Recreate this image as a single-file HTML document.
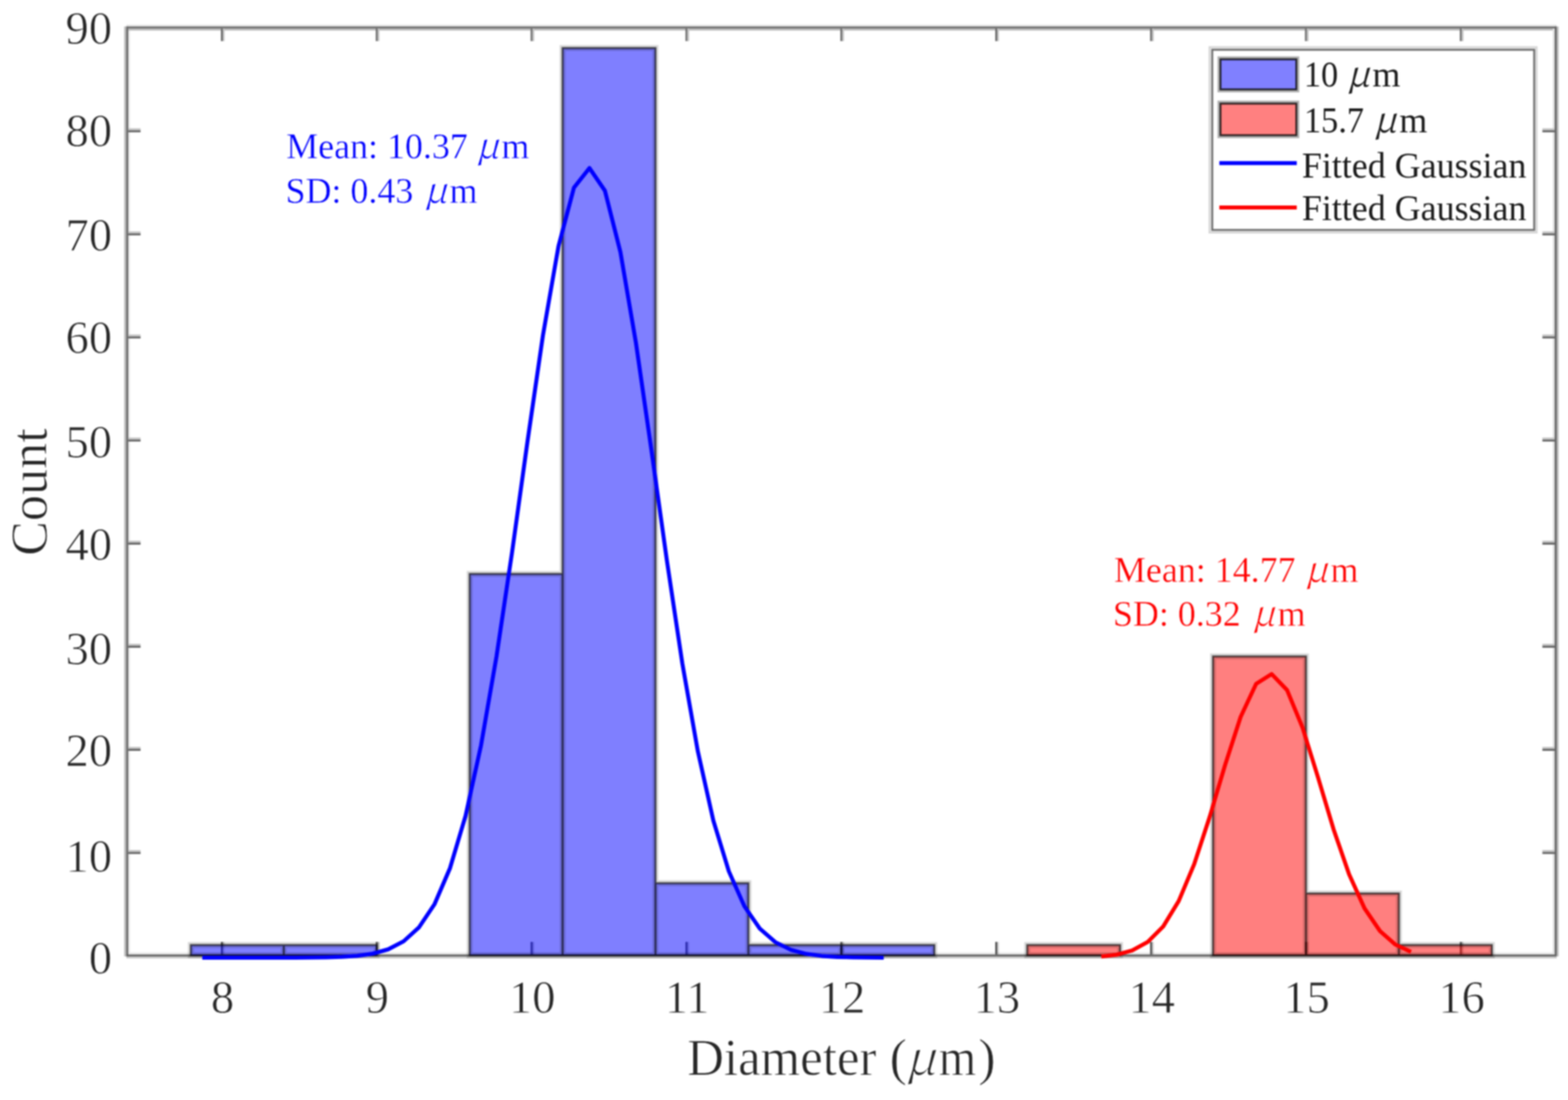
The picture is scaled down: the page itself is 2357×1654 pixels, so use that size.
<!DOCTYPE html>
<html><head><meta charset="utf-8"><title>Diameter histogram</title>
<style>
html,body{margin:0;padding:0;background:#fff;overflow:hidden;}
svg{display:block;filter:blur(1px);}
text{font-family:"Liberation Serif","Times New Roman",serif;}
</style></head><body>
<svg width="2357" height="1654" viewBox="0 0 2357 1654">
<rect x="0" y="0" width="2357" height="1654" fill="#fff"/>
<g><rect x="186.7" y="39.8" width="3.2" height="1398.3" fill="#b8b8b8"/><rect x="192.8" y="42.8" width="3.0" height="1392.5" fill="#eeeeee"/><rect x="189.9" y="37.0" width="2150.1" height="2.8" fill="#e6e6e6"/><rect x="192.8" y="42.8" width="2144.2" height="3.1" fill="#bcbcbc"/><rect x="192.8" y="1432.3" width="2144.2" height="3.0" fill="#e6e6e6"/><rect x="189.9" y="1438.1" width="2150.1" height="3.0" fill="#c8c8c8"/><rect x="2334.0" y="42.8" width="3.0" height="1392.5" fill="#e2e2e2"/><rect x="2340.0" y="39.8" width="3.0" height="1398.3" fill="#bcbcbc"/><rect x="189.9" y="39.8" width="2.9" height="1398.3" fill="#676767"/><rect x="189.9" y="39.8" width="2150.1" height="3.0" fill="#6b6b6b"/><rect x="189.9" y="1435.3" width="2150.1" height="2.8" fill="#5e5e5e"/><rect x="2337.0" y="39.8" width="3.0" height="1398.3" fill="#676767"/></g>
<g><rect x="332.0" y="42.8" width="3" height="19" fill="#6e6e6e"/><rect x="335.0" y="42.8" width="2.5" height="19" fill="#c4c4c4"/><rect x="332.0" y="1416.3" width="3" height="19" fill="#555"/><rect x="335.0" y="1416.3" width="2.5" height="19" fill="#000" fill-opacity="0.2"/><rect x="564.8" y="42.8" width="3" height="19" fill="#6e6e6e"/><rect x="567.8" y="42.8" width="2.5" height="19" fill="#c4c4c4"/><rect x="564.8" y="1416.3" width="3" height="19" fill="#555"/><rect x="567.8" y="1416.3" width="2.5" height="19" fill="#000" fill-opacity="0.2"/><rect x="797.6" y="42.8" width="3" height="19" fill="#6e6e6e"/><rect x="800.6" y="42.8" width="2.5" height="19" fill="#c4c4c4"/><rect x="797.6" y="1416.3" width="3" height="19" fill="#555"/><rect x="800.6" y="1416.3" width="2.5" height="19" fill="#000" fill-opacity="0.2"/><rect x="1030.4" y="42.8" width="3" height="19" fill="#6e6e6e"/><rect x="1033.4" y="42.8" width="2.5" height="19" fill="#c4c4c4"/><rect x="1030.4" y="1416.3" width="3" height="19" fill="#555"/><rect x="1033.4" y="1416.3" width="2.5" height="19" fill="#000" fill-opacity="0.2"/><rect x="1263.2" y="42.8" width="3" height="19" fill="#6e6e6e"/><rect x="1266.2" y="42.8" width="2.5" height="19" fill="#c4c4c4"/><rect x="1263.2" y="1416.3" width="3" height="19" fill="#555"/><rect x="1266.2" y="1416.3" width="2.5" height="19" fill="#000" fill-opacity="0.2"/><rect x="1496.0" y="42.8" width="3" height="19" fill="#6e6e6e"/><rect x="1499.0" y="42.8" width="2.5" height="19" fill="#c4c4c4"/><rect x="1496.0" y="1416.3" width="3" height="19" fill="#555"/><rect x="1499.0" y="1416.3" width="2.5" height="19" fill="#000" fill-opacity="0.2"/><rect x="1728.8" y="42.8" width="3" height="19" fill="#6e6e6e"/><rect x="1731.8" y="42.8" width="2.5" height="19" fill="#c4c4c4"/><rect x="1728.8" y="1416.3" width="3" height="19" fill="#555"/><rect x="1731.8" y="1416.3" width="2.5" height="19" fill="#000" fill-opacity="0.2"/><rect x="1961.6" y="42.8" width="3" height="19" fill="#6e6e6e"/><rect x="1964.6" y="42.8" width="2.5" height="19" fill="#c4c4c4"/><rect x="1961.6" y="1416.3" width="3" height="19" fill="#555"/><rect x="1964.6" y="1416.3" width="2.5" height="19" fill="#000" fill-opacity="0.2"/><rect x="2194.4" y="42.8" width="3" height="19" fill="#6e6e6e"/><rect x="2197.4" y="42.8" width="2.5" height="19" fill="#c4c4c4"/><rect x="2194.4" y="1416.3" width="3" height="19" fill="#555"/><rect x="2197.4" y="1416.3" width="2.5" height="19" fill="#000" fill-opacity="0.2"/><rect x="192.8" y="1281.1" width="18.5" height="3" fill="#666"/><rect x="192.8" y="1278.1" width="18.5" height="3" fill="#c4c4c4"/><rect x="2318.5" y="1281.1" width="18.5" height="3" fill="#666"/><rect x="2318.5" y="1278.1" width="18.5" height="3" fill="#c4c4c4"/><rect x="192.8" y="1126.0" width="18.5" height="3" fill="#666"/><rect x="192.8" y="1123.0" width="18.5" height="3" fill="#c4c4c4"/><rect x="2318.5" y="1126.0" width="18.5" height="3" fill="#666"/><rect x="2318.5" y="1123.0" width="18.5" height="3" fill="#c4c4c4"/><rect x="192.8" y="971.0" width="18.5" height="3" fill="#666"/><rect x="192.8" y="968.0" width="18.5" height="3" fill="#c4c4c4"/><rect x="2318.5" y="971.0" width="18.5" height="3" fill="#666"/><rect x="2318.5" y="968.0" width="18.5" height="3" fill="#c4c4c4"/><rect x="192.8" y="816.0" width="18.5" height="3" fill="#666"/><rect x="192.8" y="813.0" width="18.5" height="3" fill="#c4c4c4"/><rect x="2318.5" y="816.0" width="18.5" height="3" fill="#666"/><rect x="2318.5" y="813.0" width="18.5" height="3" fill="#c4c4c4"/><rect x="192.8" y="660.9" width="18.5" height="3" fill="#666"/><rect x="192.8" y="657.9" width="18.5" height="3" fill="#c4c4c4"/><rect x="2318.5" y="660.9" width="18.5" height="3" fill="#666"/><rect x="2318.5" y="657.9" width="18.5" height="3" fill="#c4c4c4"/><rect x="192.8" y="505.9" width="18.5" height="3" fill="#666"/><rect x="192.8" y="502.9" width="18.5" height="3" fill="#c4c4c4"/><rect x="2318.5" y="505.9" width="18.5" height="3" fill="#666"/><rect x="2318.5" y="502.9" width="18.5" height="3" fill="#c4c4c4"/><rect x="192.8" y="350.9" width="18.5" height="3" fill="#666"/><rect x="192.8" y="347.9" width="18.5" height="3" fill="#c4c4c4"/><rect x="2318.5" y="350.9" width="18.5" height="3" fill="#666"/><rect x="2318.5" y="347.9" width="18.5" height="3" fill="#c4c4c4"/><rect x="192.8" y="195.9" width="18.5" height="3" fill="#666"/><rect x="192.8" y="192.9" width="18.5" height="3" fill="#c4c4c4"/><rect x="2318.5" y="195.9" width="18.5" height="3" fill="#666"/><rect x="2318.5" y="192.9" width="18.5" height="3" fill="#c4c4c4"/></g>
<g><rect x="286.9" y="1421.1" width="139.7" height="15.5" fill="#0000ff" fill-opacity="0.5"/><rect x="426.6" y="1421.1" width="139.7" height="15.5" fill="#0000ff" fill-opacity="0.5"/><rect x="706.0" y="863.0" width="139.7" height="573.6" fill="#0000ff" fill-opacity="0.5"/><rect x="845.7" y="72.3" width="139.7" height="1364.3" fill="#0000ff" fill-opacity="0.5"/><rect x="985.3" y="1328.1" width="139.7" height="108.5" fill="#0000ff" fill-opacity="0.5"/><rect x="1125.0" y="1421.1" width="139.7" height="15.5" fill="#0000ff" fill-opacity="0.5"/><rect x="1264.7" y="1421.1" width="139.7" height="15.5" fill="#0000ff" fill-opacity="0.5"/><rect x="1544.1" y="1421.1" width="139.7" height="15.5" fill="#ff0000" fill-opacity="0.5"/><rect x="1823.4" y="987.0" width="139.7" height="449.6" fill="#ff0000" fill-opacity="0.5"/><rect x="1963.1" y="1343.6" width="139.7" height="93.0" fill="#ff0000" fill-opacity="0.5"/><rect x="2102.8" y="1421.1" width="139.7" height="15.5" fill="#ff0000" fill-opacity="0.5"/><path d="M286.9,1436.6V1421.1H426.6V1436.6ZM426.6,1436.6V1421.1H566.3V1436.6ZM706.0,1436.6V863.0H845.7V1436.6ZM845.7,1436.6V72.3H985.3V1436.6ZM985.3,1436.6V1328.1H1125.0V1436.6ZM1125.0,1436.6V1421.1H1264.7V1436.6ZM1264.7,1436.6V1421.1H1404.4V1436.6ZM1544.1,1436.6V1421.1H1683.7V1436.6ZM1823.4,1436.6V987.0H1963.1V1436.6ZM1963.1,1436.6V1343.6H2102.8V1436.6ZM2102.8,1436.6V1421.1H2242.5V1436.6Z" fill="none" stroke="#000" stroke-opacity="0.15" stroke-width="9"/><path d="M286.9,1436.6V1421.1H426.6V1436.6ZM426.6,1436.6V1421.1H566.3V1436.6ZM706.0,1436.6V863.0H845.7V1436.6ZM845.7,1436.6V72.3H985.3V1436.6ZM985.3,1436.6V1328.1H1125.0V1436.6ZM1125.0,1436.6V1421.1H1264.7V1436.6ZM1264.7,1436.6V1421.1H1404.4V1436.6ZM1544.1,1436.6V1421.1H1683.7V1436.6ZM1823.4,1436.6V987.0H1963.1V1436.6ZM1963.1,1436.6V1343.6H2102.8V1436.6ZM2102.8,1436.6V1421.1H2242.5V1436.6Z" fill="none" stroke="#000" stroke-opacity="0.62" stroke-width="3"/></g>
<polyline points="304.1,1440.0 327.3,1440.0 350.6,1440.0 373.9,1440.0 397.2,1440.0 420.5,1440.0 443.7,1439.9 467.0,1439.8 490.3,1439.5 513.6,1438.8 536.9,1437.2 560.1,1434.0 583.4,1427.5 606.7,1415.4 630.0,1394.2 653.3,1359.3 676.5,1305.2 699.8,1226.8 723.1,1120.6 746.4,986.7 769.7,830.6 792.9,664.0 816.2,503.9 839.5,370.3 862.8,282.1 886.1,252.7 909.3,286.8 932.6,379.0 955.9,515.3 979.2,676.7 1002.5,843.1 1025.7,997.8 1049.0,1129.7 1072.3,1233.8 1095.6,1310.1 1118.9,1362.6 1142.1,1396.2 1165.4,1416.6 1188.7,1428.1 1212.0,1434.3 1235.3,1437.4 1258.5,1438.9 1281.8,1439.5 1305.1,1439.8 1328.4,1439.9" fill="none" stroke="#0000ff" stroke-width="6" stroke-linejoin="round"/><polyline points="1655.4,1438.3 1678.7,1435.5 1701.9,1429.2 1725.2,1416.4 1748.5,1393.1 1771.8,1354.9 1795.1,1299.4 1818.3,1228.5 1841.6,1150.1 1864.9,1078.0 1888.2,1028.3 1911.5,1013.5 1934.7,1037.6 1958.0,1094.1 1981.3,1169.2 2004.6,1246.9 2027.9,1314.6 2051.1,1365.8 2074.4,1400.0 2097.7,1420.4 2121.0,1431.2" fill="none" stroke="#ff0000" stroke-width="6" stroke-linejoin="round"/>
<g font-size="70" fill="#262626" stroke="#fff" stroke-width="0.9">
<text x="168.5" y="1463.6" text-anchor="end">0</text>
<text x="168.5" y="1310.6" text-anchor="end">10</text>
<text x="168.5" y="1152.3" text-anchor="end">20</text>
<text x="168.5" y="998.6" text-anchor="end">30</text>
<text x="168.5" y="842.4" text-anchor="end">40</text>
<text x="168.5" y="688.2" text-anchor="end">50</text>
<text x="168.5" y="530.9" text-anchor="end">60</text>
<text x="168.5" y="377.4" text-anchor="end">70</text>
<text x="168.5" y="219.8" text-anchor="end">80</text>
<text x="168.5" y="65.5" text-anchor="end">90</text>
<text x="334.5" y="1523" text-anchor="middle">8</text>
<text x="567.3" y="1523" text-anchor="middle">9</text>
<text x="800.1" y="1523" text-anchor="middle">10</text>
<text x="1032.9" y="1523" text-anchor="middle">11</text>
<text x="1265.7" y="1523" text-anchor="middle">12</text>
<text x="1498.5" y="1523" text-anchor="middle">13</text>
<text x="1731.3" y="1523" text-anchor="middle">14</text>
<text x="1964.1" y="1523" text-anchor="middle">15</text>
<text x="2196.9" y="1523" text-anchor="middle">16</text>
</g>
<text y="1615.5" font-size="78.5" fill="#262626" stroke="#fff" stroke-width="0.9"><tspan x="1033" textLength="284.4" lengthAdjust="spacingAndGlyphs">Diameter</tspan><tspan x="1337.3">(</tspan><tspan x="1361" font-size="72" font-family="Noto Serif CJK SC" font-style="italic">μ</tspan><tspan x="1411.3" textLength="56.1" lengthAdjust="spacingAndGlyphs">m</tspan><tspan x="1470.6">)</tspan></text>
<text transform="translate(70,739.8) rotate(-90)" text-anchor="middle" font-size="78.5" fill="#262626" stroke="#fff" stroke-width="0.9">Count</text>
<g font-size="54" stroke="#fff" stroke-width="0.5">
<text y="237.8" fill="#0000ff"><tspan x="430.2">Mean: 10.37</tspan><tspan x="715.7" font-family="Noto Serif CJK SC" font-style="italic">μ</tspan><tspan x="753.8">m</tspan></text>
<text y="304.6" fill="#0000ff"><tspan x="429.2">SD: 0.43</tspan><tspan x="637.8" font-family="Noto Serif CJK SC" font-style="italic">μ</tspan><tspan x="675.8">m</tspan></text>
<text y="874.6" fill="#ff0000"><tspan x="1674.5">Mean: 14.77</tspan><tspan x="1961.7" font-family="Noto Serif CJK SC" font-style="italic">μ</tspan><tspan x="2000">m</tspan></text>
<text y="940.6" fill="#ff0000"><tspan x="1673.0">SD: 0.32</tspan><tspan x="1882.3" font-family="Noto Serif CJK SC" font-style="italic">μ</tspan><tspan x="1920.5">m</tspan></text>
</g>
<g><rect x="1818.2" y="71" width="491.6" height="278.6" fill="none" stroke="#000" stroke-opacity="0.16" stroke-width="3"/><rect x="1822.2" y="74.8" width="484" height="271" fill="#fff" stroke="#6e6e6e" stroke-width="3"/><rect x="1834.6" y="89.2" width="114" height="45.2" fill="none" stroke="#000" stroke-opacity="0.3" stroke-width="9"/><rect x="1834.6" y="89.2" width="114" height="45.2" fill="#8080ff" stroke="#000" stroke-opacity="0.75" stroke-width="3"/><rect x="1834.6" y="155.8" width="114" height="47.5" fill="none" stroke="#000" stroke-opacity="0.3" stroke-width="9"/><rect x="1834.6" y="155.8" width="114" height="47.5" fill="#ff8080" stroke="#000" stroke-opacity="0.75" stroke-width="3"/><line x1="1832.9" y1="245.3" x2="1949.3" y2="245.3" stroke="#0000ff" stroke-width="6"/><line x1="1832.9" y1="312.1" x2="1949.3" y2="312.1" stroke="#ff0000" stroke-width="6"/></g>
<g font-size="54" fill="#1a1a1a">
<text y="129.9" fill="#1a1a1a"><tspan x="1960" textLength="51.5" lengthAdjust="spacingAndGlyphs">10</tspan><tspan x="2024.8" font-family="Noto Serif CJK SC" font-style="italic">μ</tspan><tspan x="2062.9">m</tspan></text>
<text y="198.9" fill="#1a1a1a"><tspan x="1960" textLength="90.4" lengthAdjust="spacingAndGlyphs">15.7</tspan><tspan x="2065" font-family="Noto Serif CJK SC" font-style="italic">μ</tspan><tspan x="2103.6">m</tspan></text>
<text x="1957" y="267">Fitted Gaussian</text>
<text x="1957" y="330.5">Fitted Gaussian</text>
</g>
</svg>
</body></html>
